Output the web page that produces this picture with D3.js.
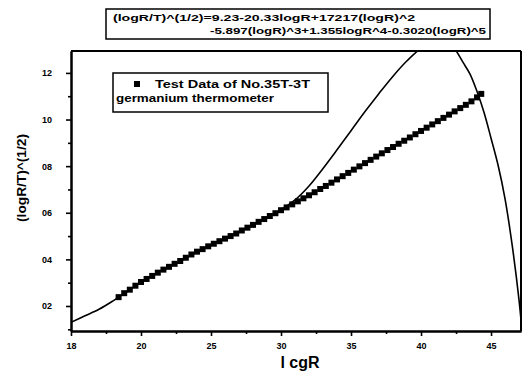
<!DOCTYPE html>
<html>
<head>
<meta charset="utf-8">
<script src="https://cdn.jsdelivr.net/npm/d3@7"></script>
<style>
  body { margin: 0; background: #fff; }
  text { font-family: "Liberation Sans", Arial, sans-serif; font-weight: bold; fill: #000; }
</style>
</head>
<body>
<div id="chart"></div>
<script>
// test data (logR, (logR/T)^(1/2))
const dataX = [1.84, 1.88, 1.92, 1.96, 2.00, 2.04, 2.08, 2.12, 2.16, 2.20, 2.24, 2.28, 2.32, 2.36, 2.40, 2.44,
  2.48, 2.52, 2.56, 2.60, 2.64, 2.68, 2.72, 2.76, 2.80, 2.84, 2.88, 2.92, 2.96, 3.00, 3.04, 3.08,
  3.12, 3.16, 3.20, 3.24, 3.28, 3.32, 3.36, 3.40, 3.44, 3.48, 3.52, 3.56, 3.60, 3.64, 3.68, 3.72,
  3.76, 3.80, 3.84, 3.88, 3.92, 3.96, 4.00, 4.04, 4.08, 4.12, 4.16, 4.20, 4.24, 4.28, 4.32, 4.36, 4.40, 4.43];
const dataY = [0.238, 0.255, 0.270, 0.287, 0.303, 0.316, 0.329, 0.343, 0.356, 0.368, 0.381, 0.393, 0.407, 0.421, 0.433, 0.444,
  0.456, 0.467, 0.478, 0.489, 0.500, 0.511, 0.524, 0.536, 0.548, 0.561, 0.573, 0.586, 0.598, 0.611, 0.623, 0.636,
  0.649, 0.662, 0.675, 0.688, 0.702, 0.715, 0.729, 0.743, 0.757, 0.771, 0.785, 0.799, 0.813, 0.827, 0.841, 0.855,
  0.869, 0.882, 0.896, 0.909, 0.923, 0.937, 0.951, 0.965, 0.979, 0.993, 1.007, 1.021, 1.035, 1.049, 1.063, 1.078, 1.095, 1.110];

// fitted polynomial curve
const fitX = [1.50, 1.60, 1.70, 1.80, 1.90, 2.00, 2.10, 2.20, 2.30, 2.40, 2.50, 2.60, 2.70, 2.80, 2.90, 3.00,
  3.10, 3.20, 3.30, 3.40, 3.50, 3.60, 3.70, 3.80, 3.90, 4.00, 4.10, 4.20, 4.25, 4.30, 4.35, 4.40,
  4.45, 4.50, 4.55, 4.60, 4.65, 4.70, 4.72];
const fitY = [0.130, 0.158, 0.186, 0.222, 0.262, 0.303, 0.337, 0.367, 0.398, 0.432, 0.462, 0.490, 0.518, 0.548, 0.580, 0.613,
  0.655, 0.715, 0.790, 0.870, 0.952, 1.034, 1.112, 1.186, 1.252, 1.305, 1.335, 1.330, 1.295, 1.245, 1.195, 1.120,
  1.030, 0.920, 0.805, 0.660, 0.465, 0.225, 0.100];

const xTicks = [1.5, 2.0, 2.5, 3.0, 3.5, 4.0, 4.5];
const xTickLabels = ["18", "20", "25", "30", "35", "40", "45"];
const yTicks = [0.2, 0.4, 0.6, 0.8, 1.0, 1.2];
const yTickLabels = ["02", "04", "06", "08", "10", "12"];

const titleLines = ["(logR/T)^(1/2)=9.23-20.33logR+17217(logR)^2",
  "-5.897(logR)^3+1.355logR^4-0.3020(logR)^5"];
const legendLines = ["Test Data of No.35T-3T", "germanium thermometer"];

const W = 523, H = 375;
const margin = { top: 51, right: 2, bottom: 44, left: 71 },
  width = W - margin.left - margin.right,
  height = H - margin.top - margin.bottom;

const root = d3.select("#chart").append("svg")
  .attr("width", W)
  .attr("height", H);

const svg = root.append("g")
  .attr("transform", `translate(${margin.left},${margin.top})`);

const x = d3.scaleLinear().domain([1.5, 4.714]).range([0, width]);
const y = d3.scaleLinear().domain([0.0927, 1.294]).range([height, 0]);

svg.append("clipPath").attr("id", "plot-clip")
  .append("rect").attr("width", width).attr("height", height);

// fitted curve
const fit = fitX.map((v, i) => ({ x: v, y: fitY[i] }));
svg.append("path")
  .datum(fit)
  .attr("clip-path", "url(#plot-clip)")
  .attr("fill", "none")
  .attr("stroke", "#000")
  .attr("stroke-width", 1.6)
  .attr("d", d3.line().x(d => x(d.x)).y(d => y(d.y)).curve(d3.curveCatmullRom));

// test data squares
const pts = dataX.map((v, i) => ({ x: v, y: dataY[i] }));
svg.selectAll(".pt")
  .data(pts)
  .enter().append("rect")
  .attr("class", "pt")
  .attr("x", d => x(d.x) - 3)
  .attr("y", d => y(d.y) - 3)
  .attr("width", 6)
  .attr("height", 6)
  .attr("fill", "#000");

// axes
const xAxis = svg.append("g")
  .attr("transform", `translate(0,${height})`)
  .call(d3.axisBottom(x).tickValues(xTicks).tickFormat((d, i) => xTickLabels[i]).tickSize(5).tickSizeOuter(0));
const xMinor = svg.append("g")
  .attr("transform", `translate(0,${height})`)
  .call(d3.axisBottom(x).tickValues([1.75, 2.25, 2.75, 3.25, 3.75, 4.25]).tickFormat("").tickSize(3).tickSizeOuter(0));

const yAxis = svg.append("g")
  .call(d3.axisLeft(y).tickValues(yTicks).tickFormat((d, i) => yTickLabels[i]).tickSize(5).tickSizeOuter(0));
const yMinor = svg.append("g")
  .call(d3.axisLeft(y).tickValues([0.1, 0.3, 0.5, 0.7, 0.9, 1.1]).tickFormat("").tickSize(3).tickSizeOuter(0));

[xAxis, xMinor, yAxis, yMinor].forEach(g => {
  g.selectAll("path").attr("stroke", "#000").attr("stroke-width", 2);
  g.selectAll("line").attr("stroke", "#000").attr("stroke-width", 1.6);
});
xAxis.selectAll("text").attr("font-size", 9).attr("dy", "1.1em");
yAxis.selectAll("text").attr("font-size", 9).attr("dx", -11);

// frame top and right
svg.append("line").attr("x1", 0).attr("x2", width).attr("y1", 0).attr("y2", 0)
  .attr("stroke", "#000").attr("stroke-width", 2);
svg.append("line").attr("x1", width).attr("x2", width).attr("y1", 0).attr("y2", height)
  .attr("stroke", "#000").attr("stroke-width", 2);

// axis titles
root.append("text")
  .attr("x", 300).attr("y", 368)
  .attr("text-anchor", "middle")
  .attr("font-size", 16)
  .text("l cgR");
root.append("text")
  .attr("transform", "translate(26,178) rotate(-90)")
  .attr("text-anchor", "middle")
  .attr("font-size", 12)
  .attr("textLength", 88)
  .attr("lengthAdjust", "spacingAndGlyphs")
  .text("(logR/T)^(1/2)");

// title box with the fit equation
root.append("rect")
  .attr("x", 106).attr("y", 9).attr("width", 384).attr("height", 30)
  .attr("fill", "#fff").attr("stroke", "#000").attr("stroke-width", 1.5);
root.append("text")
  .attr("x", 113).attr("y", 21)
  .attr("font-size", 9.5)
  .attr("textLength", 302)
  .attr("lengthAdjust", "spacingAndGlyphs")
  .text(titleLines[0]);
root.append("text")
  .attr("x", 210).attr("y", 34)
  .attr("font-size", 9.5)
  .attr("textLength", 276)
  .attr("lengthAdjust", "spacingAndGlyphs")
  .text(titleLines[1]);

// legend
root.append("rect")
  .attr("x", 113).attr("y", 73).attr("width", 215).attr("height", 39)
  .attr("fill", "#fff").attr("stroke", "#000").attr("stroke-width", 1.5);
root.append("rect")
  .attr("x", 134).attr("y", 81).attr("width", 6).attr("height", 6)
  .attr("fill", "#000");
root.append("text")
  .attr("x", 155).attr("y", 88)
  .attr("font-size", 10.5)
  .attr("textLength", 155)
  .attr("lengthAdjust", "spacingAndGlyphs")
  .text(legendLines[0]);
root.append("text")
  .attr("x", 116).attr("y", 102)
  .attr("font-size", 10.5)
  .attr("textLength", 158)
  .attr("lengthAdjust", "spacingAndGlyphs")
  .text(legendLines[1]);
</script>
</body>
</html>
